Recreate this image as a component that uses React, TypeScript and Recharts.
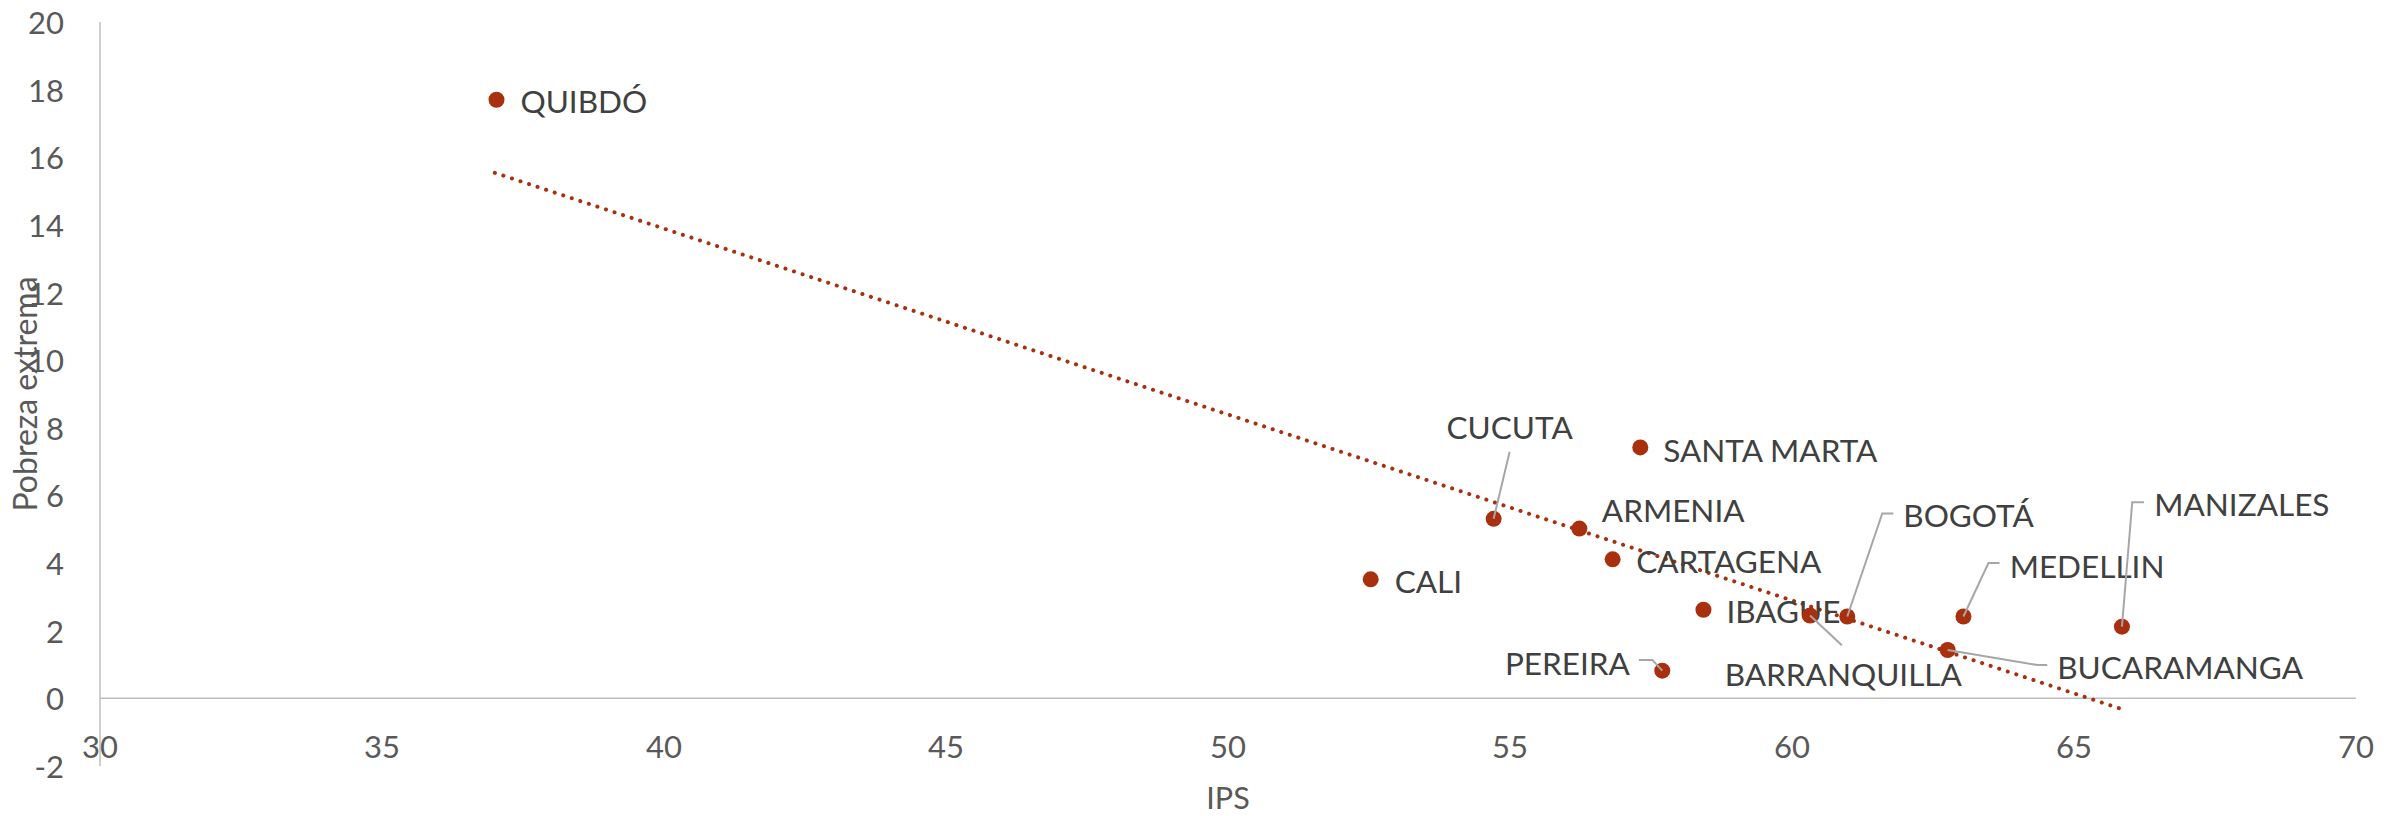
import React from 'react';
import { ScatterChart, Scatter, XAxis, YAxis, ReferenceLine } from 'recharts';

const CITIES = ['QUIBDÓ', 'CALI', 'CUCUTA', 'ARMENIA', 'CARTAGENA', 'SANTA MARTA', 'PEREIRA', 'IBAGUE', 'BARRANQUILLA', 'BOGOTÁ', 'BUCARAMANGA', 'MEDELLIN', 'MANIZALES'];
const IPS = [37.03, 52.53, 54.71, 56.23, 56.82, 57.31, 57.70, 58.43, 60.32, 60.98, 62.76, 63.04, 65.85];
const POBREZA = [17.70, 3.52, 5.31, 5.02, 4.11, 7.42, 0.82, 2.62, 2.45, 2.42, 1.43, 2.42, 2.12];

const TREND_X = [37.0, 65.85];
const TREND_Y = [15.54, -0.32];

const X_TICKS = [30, 35, 40, 45, 50, 55, 60, 65, 70];
const Y_TICKS = [-2, 0, 2, 4, 6, 8, 10, 12, 14, 16, 18, 20];

const points = CITIES.map((name, i) => ({ name, x: IPS[i], y: POBREZA[i] }));
const trend = TREND_X.map((x, i) => ({ x, y: TREND_Y[i] }));

const FONT = 'Lato, "Open Sans", sans-serif';
const DOT = '#A8300F';
const LABEL_COLOR = '#404040';
const TICK_COLOR = '#595959';
const AXIS_COLOR = '#bfbfbf';
const LEADER = '#a6a6a6';

// label placement relative to the point (px), with optional leader line
type Place = { dx: number; dy: number; anchor: 'start' | 'middle' | 'end'; leader?: number[][] };
const PLACES: Record<string, Place> = {
  'QUIBDÓ': { dx: 24, dy: 1.6, anchor: 'start' },
  'CALI': { dx: 24, dy: 2, anchor: 'start' },
  'CUCUTA': { dx: 16, dy: -92, anchor: 'middle', leader: [[16, -67], [0, 0]] },
  'ARMENIA': { dx: 22.5, dy: -18.7, anchor: 'start' },
  'CARTAGENA': { dx: 23.6, dy: 1.6, anchor: 'start' },
  'SANTA MARTA': { dx: 23, dy: 2.5, anchor: 'start' },
  'PEREIRA': { dx: -32.4, dy: -7.3, anchor: 'end', leader: [[-23.4, -10.7], [-10, -10.7], [0, 0]] },
  'IBAGUE': { dx: 23, dy: 1.6, anchor: 'start' },
  'BARRANQUILLA': { dx: -85.3, dy: 58.4, anchor: 'start', leader: [[31.8, 29.7], [0, 0]] },
  'BOGOTÁ': { dx: 56, dy: -101.5, anchor: 'start', leader: [[0, 0], [35, -103], [46, -103]] },
  'BUCARAMANGA': { dx: 109.6, dy: 16.7, anchor: 'start', leader: [[0, 0], [89.6, 15], [99.6, 15]] },
  'MEDELLIN': { dx: 46.2, dy: -50.5, anchor: 'start', leader: [[0, 0], [25, -53.4], [36, -53.4]] },
  'MANIZALES': { dx: 32.3, dy: -122.9, anchor: 'start', leader: [[0, 0], [10.3, -124.4], [22, -124.4]] },
};

function CityDot(props: any) {
  const { cx, cy, payload } = props;
  if (cx == null || cy == null) return <g />;
  const p = PLACES[payload.name];
  return (
    <g>
      <circle cx={cx} cy={cy} r={8} fill={DOT} />
      {p.leader && (
        <polyline
          points={p.leader.map(([a, b]) => `${cx + a},${cy + b}`).join(' ')}
          fill="none"
          stroke={LEADER}
          strokeWidth={2}
        />
      )}
      <text
        x={cx + p.dx}
        y={cy + p.dy}
        textAnchor={p.anchor}
        dominantBaseline="central"
        fontFamily={FONT}
        fontSize={31.5}
        fill={LABEL_COLOR}
      >
        {payload.name}
      </text>
    </g>
  );
}

function XTick(props: any) {
  const { x, y, payload } = props;
  return (
    <text x={x} y={y - 20} textAnchor="middle" dominantBaseline="central" fontFamily={FONT} fontSize={31} fill={TICK_COLOR}>
      {payload.value}
    </text>
  );
}

function YTick(props: any) {
  const { x, y, payload } = props;
  return (
    <text x={x - 36} y={y} textAnchor="end" dominantBaseline="central" fontFamily={FONT} fontSize={31} fill={TICK_COLOR}>
      {payload.value}
    </text>
  );
}

export default function App() {
  return (
    <div style={{ position: 'absolute', left: 0, top: 0, background: '#fff' }}>
      <ScatterChart width={2405} height={816} margin={{ top: 22, right: 49, bottom: 0, left: 0 }}>
        <XAxis
          type="number"
          dataKey="x"
          domain={[30, 70]}
          ticks={X_TICKS}
          axisLine={false}
          tickLine={false}
          tickSize={0}
          tickMargin={0}
          height={50}
          tick={<XTick />}
          label={{
            content: (lp: any) => (
              <text
                x={lp.viewBox.x + lp.viewBox.width / 2}
                y={lp.viewBox.y + 43}
                textAnchor="middle"
                fontFamily={FONT}
                fontSize={30.5}
                fill={TICK_COLOR}
              >
                IPS
              </text>
            ),
          }}
        />
        <YAxis
          type="number"
          dataKey="y"
          domain={[-2, 20]}
          ticks={Y_TICKS}
          width={100}
          axisLine={{ stroke: AXIS_COLOR, strokeWidth: 1.5 }}
          tickLine={false}
          tickSize={0}
          tickMargin={0}
          tick={<YTick />}
          label={{
            content: (lp: any) => {
              const cx = lp.viewBox.x + 24.7;
              const cy = lp.viewBox.y + lp.viewBox.height / 2;
              return (
                <text
                  x={cx}
                  y={cy}
                  transform={`rotate(-90 ${cx} ${cy})`}
                  textAnchor="middle"
                  dominantBaseline="central"
                  fontFamily={FONT}
                  fontSize={32}
                  fill={TICK_COLOR}
                >
                  Pobreza extrema
                </text>
              );
            },
          }}
        />
        <ReferenceLine y={0} stroke={AXIS_COLOR} strokeWidth={1.5} />
        <Scatter
          data={trend}
          line={{ stroke: DOT, strokeWidth: 4, strokeDasharray: '0.1 8.9', strokeLinecap: 'round' }}
          shape={() => <g />}
          isAnimationActive={false}
        />
        <Scatter data={points} shape={<CityDot />} isAnimationActive={false} />
      </ScatterChart>
    </div>
  );
}
